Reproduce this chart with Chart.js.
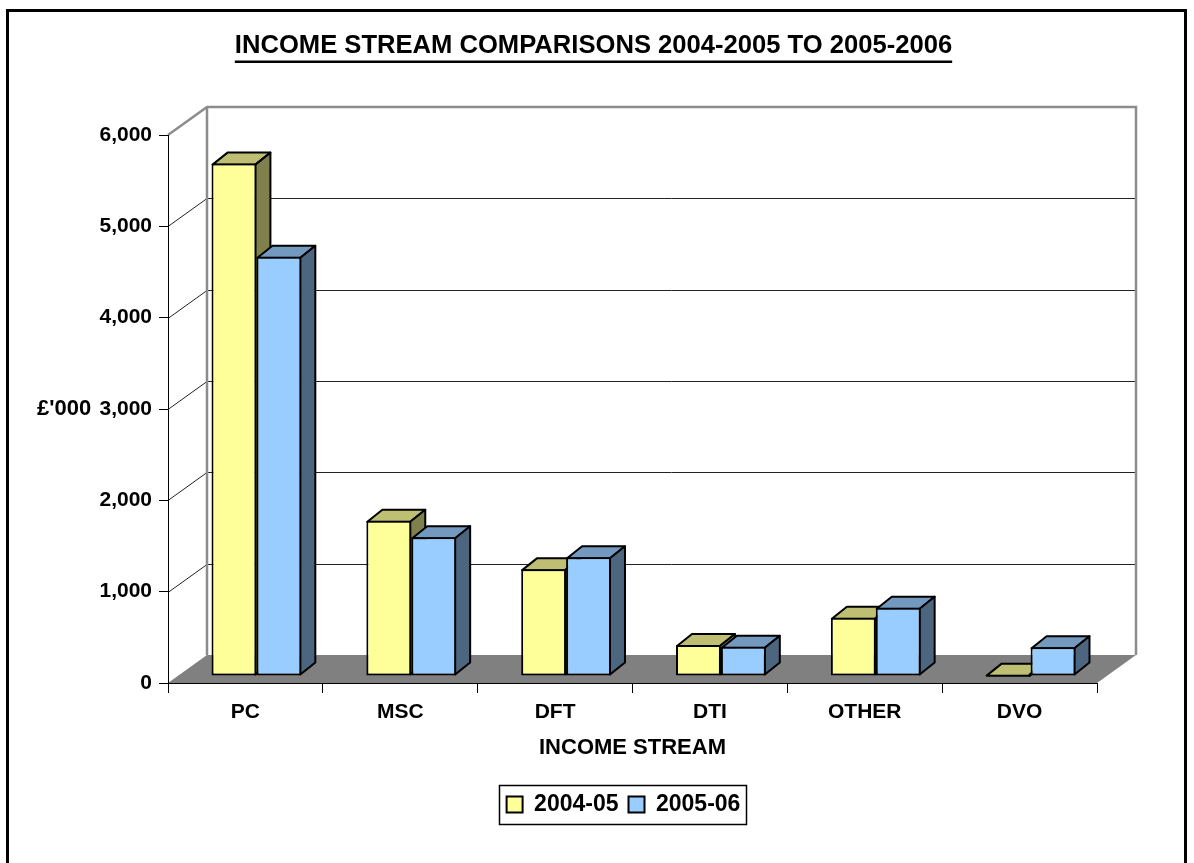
<!DOCTYPE html>
<html>
<head>
<meta charset="utf-8">
<script src="https://cdn.jsdelivr.net/npm/chart.js@4.4.1/dist/chart.umd.min.js"></script>
<style>
  html, body { margin: 0; padding: 0; background: #fff; }
  #wrap { width: 1194px; height: 863px; }
</style>
</head>
<body>
<div id="wrap"><canvas id="chart" width="1194" height="863"></canvas></div>
<script>
const CATEGORIES = ['PC', 'MSC', 'DFT', 'DTI', 'OTHER', 'DVO'];
const INCOME_0405 = [5610, 1700, 1170, 340, 638, 15];
const INCOME_0506 = [4590, 1520, 1300, 320, 748, 315];
const SERIES_LABELS = ['2004-05', '2005-06'];
const Y_TICKS = [0, 1000, 2000, 3000, 4000, 5000, 6000];

const TITLE = 'INCOME STREAM COMPARISONS 2004-2005 TO 2005-2006';
const Y_TITLE = "£'000";
const X_TITLE = 'INCOME STREAM';

const FONT = "'Liberation Sans', Arial, sans-serif";

// front / top / side shades of each series
const SHADES = [
  { front: '#ffff99', top: '#bfbf73', side: '#80804d' },
  { front: '#99ccff', top: '#7399bf', side: '#4d6680' },
];

const WALL = { dx: 39, dy: -28 };      // depth of back wall
const BAR_SHIFT = { dx: 11, dy: -7 };  // bars stand a bit back on the floor
const BAR_DEPTH = { dx: 15, dy: -12 };

Chart.defaults.font.family = FONT;
Chart.defaults.color = '#000';

function drawFaces(ctx, meta, shade) {
  const { dx, dy } = BAR_DEPTH;
  meta.data.forEach((bar) => {
    const { x, y, base, width } = bar.getProps(['x', 'y', 'base', 'width'], true);
    const l = x - width / 2 + 1;
    const r = x + width / 2 - 1;
    const t = y + 1;
    const b = base - 1;

    ctx.fillStyle = shade.top;
    ctx.beginPath();
    ctx.moveTo(l, t);
    ctx.lineTo(l + dx, t + dy);
    ctx.lineTo(r + dx, t + dy);
    ctx.lineTo(r, t);
    ctx.closePath();
    ctx.fill();
    ctx.stroke();

    ctx.fillStyle = shade.side;
    ctx.beginPath();
    ctx.moveTo(r, t);
    ctx.lineTo(r + dx, t + dy);
    ctx.lineTo(r + dx, b + dy);
    ctx.lineTo(r, b);
    ctx.closePath();
    ctx.fill();
    ctx.stroke();
  });
}

const chart3d = {
  id: 'chart3d',
  afterLayout(chart) {
    // legend sits centred under the plot, not under the whole canvas
    if (chart.legend) chart.legend.left = 150;
  },
  beforeDraw(chart) {
    const { ctx, chartArea: a, scales: { y } } = chart;
    const { dx, dy } = WALL;
    ctx.save();

    // floor
    ctx.fillStyle = '#808080';
    ctx.beginPath();
    ctx.moveTo(a.left, a.bottom);
    ctx.lineTo(a.right, a.bottom);
    ctx.lineTo(a.right + dx, a.bottom + dy);
    ctx.lineTo(a.left + dx, a.bottom + dy);
    ctx.closePath();
    ctx.fill();

    // gridlines across side wall and back wall
    ctx.strokeStyle = '#222';
    ctx.lineWidth = 1;
    Y_TICKS.slice(1, -1).forEach((v) => {
      const py = Math.round(y.getPixelForValue(v)) + 0.5;
      ctx.beginPath();
      ctx.moveTo(a.left, py);
      ctx.lineTo(a.left + dx, py + dy);
      ctx.lineTo(a.right + dx, py + dy);
      ctx.stroke();
    });

    // wall edges
    ctx.strokeStyle = '#8c8c8c';
    ctx.lineWidth = 2.5;
    ctx.beginPath();
    ctx.moveTo(a.left, a.top);
    ctx.lineTo(a.left + dx, a.top + dy);
    ctx.lineTo(a.right + dx, a.top + dy);
    ctx.lineTo(a.right + dx, a.bottom + dy);
    ctx.moveTo(a.left + dx, a.top + dy);
    ctx.lineTo(a.left + dx, a.bottom + dy);
    ctx.stroke();
    ctx.restore();
  },
  beforeDatasetsDraw(chart) {
    const { ctx } = chart;
    ctx.save();
    ctx.translate(BAR_SHIFT.dx, BAR_SHIFT.dy);
    // faces first, library draws the front faces on top of them
    ctx.save();
    ctx.strokeStyle = '#000';
    ctx.lineWidth = 2;
    ctx.lineJoin = 'round';
    chart.data.datasets.forEach((ds, i) => drawFaces(ctx, chart.getDatasetMeta(i), SHADES[i]));
    ctx.restore();
  },
  afterDatasetsDraw(chart) {
    chart.ctx.restore();
  },
  afterDraw(chart) {
    const { ctx } = chart;
    ctx.save();

    // title, underlined
    ctx.fillStyle = '#000';
    ctx.font = `bold 25.6px ${FONT}`;
    ctx.textAlign = 'center';
    ctx.textBaseline = 'middle';
    ctx.fillText(TITLE, 593.5, 46);
    const w = ctx.measureText(TITLE).width;
    ctx.fillRect(593.5 - w / 2, 60.5, w, 2.5);

    // y axis title, horizontal
    ctx.font = `bold 22px ${FONT}`;
    ctx.textAlign = 'left';
    ctx.fillText(Y_TITLE, 37, 409);

    // legend frame
    const hb = chart.legend.legendHitBoxes;
    if (hb && hb.length) {
      const last = hb[hb.length - 1];
      const left = Math.round(hb[0].left - 8) + 0.5;
      const right = Math.round(last.left + last.width + 6) + 0.5;
      const top = Math.round(hb[0].top - 8) + 0.5;
      const bottom = Math.round(hb[0].top + hb[0].height + 8) + 0.5;
      ctx.strokeStyle = '#000';
      ctx.lineWidth = 1.5;
      ctx.strokeRect(left, top, right - left, bottom - top);
    }

    // outer frame
    ctx.lineWidth = 3;
    ctx.strokeRect(7.5, 10.5, 1178, 880);
    ctx.restore();
  },
};

new Chart(document.getElementById('chart'), {
  type: 'bar',
  data: {
    labels: CATEGORIES,
    datasets: [
      {
        label: SERIES_LABELS[0],
        data: INCOME_0405,
        backgroundColor: SHADES[0].front,
        borderColor: '#000',
        borderWidth: 2,
        borderSkipped: false,
        clip: false,
      },
      {
        label: SERIES_LABELS[1],
        data: INCOME_0506,
        backgroundColor: SHADES[1].front,
        borderColor: '#000',
        borderWidth: 2,
        borderSkipped: false,
        clip: false,
      },
    ],
  },
  options: {
    responsive: false,
    animation: false,
    events: [],
    layout: { padding: { left: 0, right: 97, top: 135, bottom: 37 } },
    datasets: { bar: { categoryPercentage: 0.58, barPercentage: 1 } },
    scales: {
      x: {
        grid: { drawOnChartArea: false, drawTicks: true, tickLength: 10, color: '#000', offset: true },
        border: { display: true, color: '#000', width: 1 },
        ticks: { color: '#000', font: { size: 21, weight: 'bold' }, padding: 7, maxRotation: 0, autoSkip: false },
        title: {
          display: true,
          text: X_TITLE,
          color: '#000',
          font: { size: 22, weight: 'bold' },
          padding: { top: 0, bottom: 22 },
        },
        afterFit(scale) { scale.height = 100; },
      },
      y: {
        min: 0,
        max: 6000,
        afterBuildTicks(scale) { scale.ticks = Y_TICKS.map((v) => ({ value: v })); },
        grid: { drawOnChartArea: false, drawTicks: true, tickLength: 9, color: '#000' },
        border: { display: true, color: '#000', width: 1 },
        ticks: {
          color: '#000',
          font: { size: 21, weight: 'bold' },
          padding: 7,
          callback: (v) => v.toLocaleString('en-US'),
        },
        afterFit(scale) { scale.width = 168; },
      },
    },
    plugins: {
      legend: {
        position: 'bottom',
        labels: {
          color: '#000',
          font: { size: 23, weight: 'bold' },
          boxWidth: 16,
          boxHeight: 16,
          padding: 10,
        },
      },
      title: { display: false },
      tooltip: { enabled: false },
    },
  },
  plugins: [chart3d],
});
</script>
</body>
</html>
